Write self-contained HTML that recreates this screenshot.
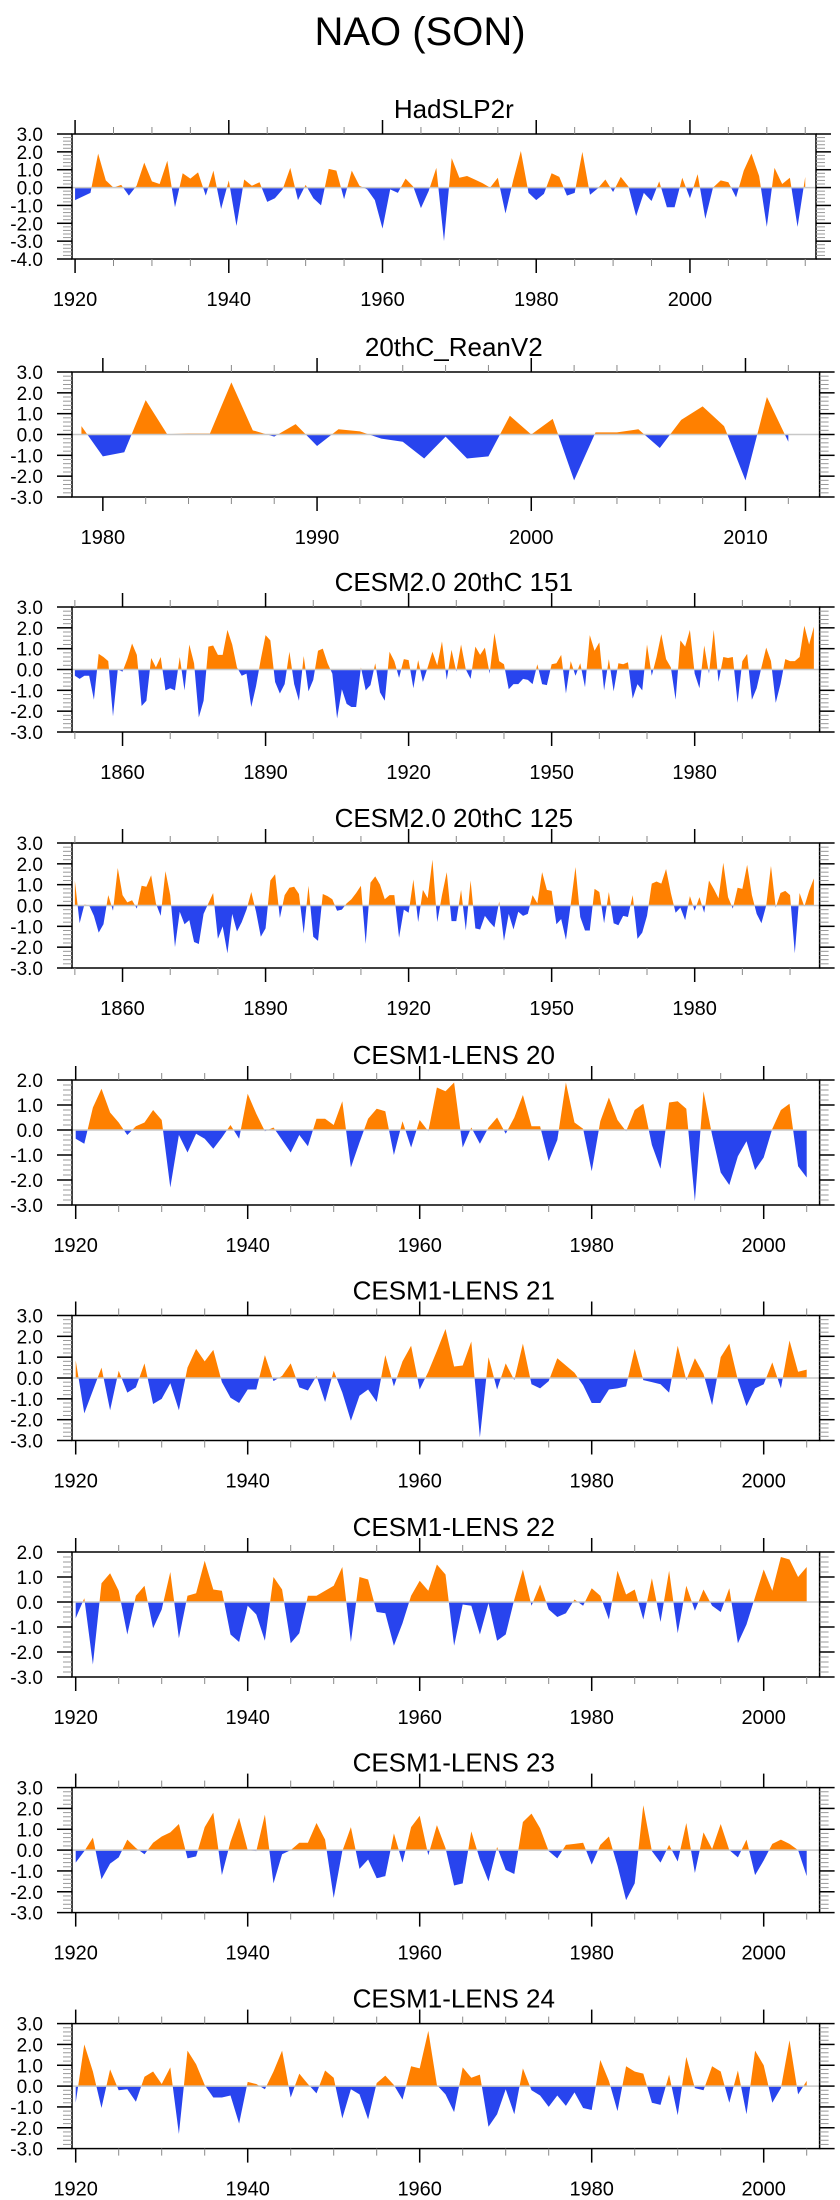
<!DOCTYPE html>
<html><head><meta charset="utf-8">
<style>
html,body{margin:0;padding:0;background:#fff;}
svg{display:block;font-family:"Liberation Sans",Arial,sans-serif;}
</style></head>
<body>
<svg id="chart" width="840" height="2200" viewBox="0 0 840 2200" xmlns="http://www.w3.org/2000/svg">
<text x="420" y="45" font-size="40" text-anchor="middle" fill="#000">NAO (SON)</text>
</svg>
<script>
// ---- data ----
const titles = ["HadSLP2r","20thC_ReanV2","CESM2.0 20thC 151","CESM2.0 20thC 125","CESM1-LENS 20","CESM1-LENS 21","CESM1-LENS 22","CESM1-LENS 23","CESM1-LENS 24"];
const startYears = [1920,1979,1850,1850,1920,1920,1920,1920,1920];
const yMins = [-4,-3,-3,-3,-3,-3,-3,-3,-3];
const yMaxs = [3,3,3,3,2,3,2,3,3];
const s1 = [-0.7,-0.5,-0.3,1.9,0.4,0.0,0.15,-0.45,0.1,1.4,0.35,0.2,1.5,-1.1,0.8,0.5,0.85,-0.45,0.95,-1.2,0.4,-2.15,0.45,0.1,0.3,-0.8,-0.6,-0.1,1.1,-0.7,0.15,-0.6,-1.0,1.05,0.95,-0.65,0.95,0.1,-0.1,-0.7,-2.3,-0.1,-0.3,0.5,0.05,-1.15,-0.2,1.1,-3.0,1.65,0.55,0.65,0.45,0.25,0.0,0.55,-1.45,0.4,2.05,-0.3,-0.7,-0.35,0.8,0.6,-0.45,-0.3,2.0,-0.4,-0.05,0.45,-0.25,0.6,0.05,-1.6,-0.3,-0.75,0.35,-1.1,-1.1,0.55,-0.6,0.75,-1.75,0.0,0.4,0.3,-0.55,0.95,1.9,0.65,-2.2,1.1,0.2,0.55,-2.2,0.6];
const s2 = [0.4,-1.05,-0.85,1.65,0.02,0.05,0.05,2.5,0.2,-0.1,0.5,-0.55,0.25,0.15,-0.2,-0.35,-1.15,-0.1,-1.15,-1.05,0.9,0.0,0.75,-2.2,0.1,0.1,0.25,-0.65,0.7,1.35,0.4,-2.2,1.8,-0.35];
const s3 = [-0.3,-0.45,-0.3,-0.3,-1.45,0.75,0.6,0.4,-2.25,0.0,-0.1,0.5,1.25,0.7,-1.75,-1.5,0.55,0.1,0.6,-1.0,-0.9,-1.0,0.6,-1.0,1.2,0.3,-2.3,-1.5,1.1,1.15,0.7,0.7,1.9,1.2,0.1,-0.3,-0.2,-1.8,-0.8,0.5,1.65,1.4,-0.6,-1.15,-0.7,0.85,-0.7,-1.5,0.65,-1.05,-0.5,0.9,1.0,0.3,-0.2,-2.35,-0.95,-1.65,-1.8,-1.8,0.1,-1.0,-0.75,0.3,-1.1,-1.5,0.85,0.4,-0.4,0.5,0.45,-0.9,0.45,-0.6,0.1,0.85,0.2,1.35,-0.5,0.95,-0.1,1.2,0.0,-0.45,1.1,0.7,1.05,-0.2,1.75,0.4,0.25,-0.95,-0.7,-0.7,-0.45,-0.5,-0.7,0.25,-0.7,-0.75,0.25,0.3,0.7,-1.15,0.4,-0.3,0.3,-0.85,1.65,0.9,1.3,-1.0,0.5,-1.05,0.3,0.25,0.35,-1.4,-0.7,-1.0,1.2,-0.3,0.6,1.7,0.5,0.1,-1.45,1.4,1.1,1.9,-0.2,-0.9,1.15,-0.2,1.9,-0.6,0.6,0.55,0.6,-1.6,0.4,0.75,-1.45,-0.9,0.1,1.05,0.4,-1.6,-0.7,0.5,0.4,0.4,0.6,2.1,1.2,2.05];
const s4 = [1.2,-0.85,0.05,0.0,-0.5,-1.3,-0.9,0.5,-0.25,1.8,0.5,0.15,0.25,-0.15,0.95,0.9,1.45,0.1,-0.5,1.65,0.5,-2.0,-0.3,-0.9,-0.7,-1.75,-1.85,-0.4,0.1,0.6,-1.6,-1.0,-2.3,-0.4,-1.25,-0.8,-0.2,0.65,-0.3,-1.5,-1.1,1.2,1.5,-0.6,0.5,0.85,0.9,0.55,-1.35,0.95,-1.5,-1.7,0.55,0.45,0.3,-0.25,-0.2,0.1,0.3,0.6,0.95,-1.85,1.1,1.4,1.0,0.3,0.5,0.5,-1.55,-0.2,-0.35,1.25,-0.8,0.75,0.35,2.2,-0.8,0.5,1.6,-0.75,-0.75,0.75,-1.2,1.2,-1.1,-1.15,-0.5,-0.8,-1.05,0.2,-1.7,-0.4,-1.15,-0.3,-0.5,-0.4,0.5,0.1,1.6,0.75,0.7,-0.9,-0.65,-1.65,0.05,1.85,-0.55,-1.2,-1.2,0.8,0.65,-0.85,0.65,-0.85,-0.95,-0.5,-0.55,0.5,-1.6,-1.3,-0.5,1.05,1.15,1.05,1.75,0.6,-0.35,-0.1,-0.7,0.45,-0.25,0.4,-0.35,1.2,0.8,0.35,2.05,0.4,-0.15,0.85,0.8,1.95,0.5,-0.4,-0.85,0.0,1.9,-0.1,0.6,0.7,0.5,-2.3,0.6,-0.05,0.7,1.3];
const s5 = [-0.35,-0.55,0.9,1.65,0.7,0.3,-0.2,0.15,0.3,0.8,0.4,-2.3,-0.2,-0.9,-0.15,-0.35,-0.75,-0.3,0.2,-0.35,1.45,0.65,-0.05,0.1,-0.4,-0.9,-0.2,-0.65,0.45,0.45,0.2,1.15,-1.5,-0.5,0.45,0.85,0.75,-1.0,0.35,-0.7,0.4,-0.05,1.7,1.55,1.9,-0.7,0.1,-0.55,0.1,0.5,-0.15,0.5,1.4,0.15,0.15,-1.25,-0.4,1.9,0.3,0.05,-1.65,0.35,1.3,0.4,-0.05,0.8,1.05,-0.6,-1.55,1.1,1.15,0.85,-2.85,1.55,-0.2,-1.7,-2.2,-1.05,-0.45,-1.6,-1.1,0.05,0.8,1.05,-1.45,-1.9];
const s6 = [0.85,-1.7,-0.6,0.5,-1.55,0.35,-0.7,-0.45,0.7,-1.25,-1.0,-0.25,-1.55,0.5,1.4,0.8,1.35,-0.2,-0.95,-1.2,-0.55,-0.55,1.1,-0.15,0.1,0.7,-0.45,-0.6,0.1,-1.15,0.35,-0.7,-2.05,-0.85,-0.55,-1.15,1.1,-0.4,0.8,1.55,-0.55,0.3,1.3,2.35,0.55,0.6,1.75,-2.85,1.0,-0.55,0.7,-0.1,1.65,-0.3,-0.5,-0.15,0.95,0.6,0.25,-0.35,-1.2,-1.2,-0.55,-0.5,-0.4,1.4,-0.1,-0.2,-0.3,-0.7,1.55,-0.1,0.95,0.2,-1.3,1.0,1.65,-0.1,-1.35,-0.5,-0.3,0.75,-0.5,1.8,0.3,0.4];
const s7 = [-0.65,0.15,-2.5,0.75,1.15,0.45,-1.3,0.25,0.65,-1.05,-0.3,1.2,-1.45,0.25,0.35,1.65,0.5,0.45,-1.3,-1.6,-0.15,-0.5,-1.55,1.0,0.5,-1.65,-1.25,0.25,0.25,0.45,0.65,1.4,-1.6,1.0,0.9,-0.4,-0.45,-1.75,-0.85,0.25,0.85,0.45,1.5,1.1,-1.75,-0.1,-0.15,-1.3,-0.05,-1.55,-1.3,0.1,1.3,-0.15,0.7,-0.3,-0.6,-0.45,0.1,-0.15,0.55,0.25,-0.7,1.25,0.3,0.5,-0.7,0.95,-0.8,1.25,-1.25,0.65,-0.35,0.5,-0.15,-0.4,0.55,-1.65,-0.9,0.2,1.3,0.45,1.8,1.7,1.0,1.4];
const s8 = [-0.6,-0.05,0.6,-1.4,-0.65,-0.35,0.5,0.1,-0.2,0.35,0.65,0.85,1.25,-0.4,-0.3,1.1,1.8,-1.2,0.4,1.55,0.0,-0.05,1.7,-1.6,-0.2,0.0,0.35,0.35,1.3,0.5,-2.3,-0.05,1.1,-0.9,-0.45,-1.35,-1.25,0.8,-0.6,1.1,1.65,-0.25,1.2,0.1,-1.7,-1.6,0.9,-0.45,-1.5,0.15,-0.95,-1.15,1.35,1.75,1.05,-0.05,-0.4,0.25,0.3,0.35,-0.7,0.25,0.65,-0.75,-2.4,-1.6,2.15,-0.05,-0.6,0.25,-0.55,1.3,-1.1,0.85,0.05,1.25,0.0,-0.35,0.5,-1.2,-0.5,0.3,0.5,0.3,0.0,-1.25];
const s9 = [-0.8,2.0,0.7,-1.05,0.8,-0.2,-0.15,-0.75,0.45,0.7,0.1,0.9,-2.3,1.7,1.05,0.05,-0.55,-0.55,-0.45,-1.8,0.2,0.1,-0.15,0.7,1.7,-0.55,0.6,0.1,-0.35,0.75,0.4,-1.55,-0.15,-0.4,-1.6,0.15,0.5,0.05,-0.65,0.95,0.85,2.65,0.05,-0.4,-1.25,0.9,0.4,0.55,-1.95,-1.35,-0.15,-1.35,0.85,-0.2,-0.45,-1.0,-0.45,-0.95,-0.3,-1.05,-1.15,1.25,0.25,-1.2,0.95,0.7,0.6,-0.8,-0.9,0.55,-1.4,1.4,-0.1,-0.2,0.95,0.7,-0.8,0.75,-1.35,1.7,1.0,-0.8,-0.1,2.2,-0.4,0.25];
const seriesList = [s1,s2,s3,s4,s5,s6,s7,s8,s9];
const yTickLabels1 = ["-4.0","-3.0","-2.0","-1.0","0.0","1.0","2.0","3.0"];

// ---- layout (pixel geometry, not data) ----
const boxTops = [134,372,607,843,1080,1315.5,1552,1787.6,2023.6];
const boxH = 125;
const boxLeft = 72;
const boxRights = [816,819.6,819.6,819.6,819.6,819.6,819.6,819.6,819.6];
const xDom = [[1919.6,2016.4],[1978.56,2013.46],[1849.4,2006.2],[1849.4,2006.2],[1919.57,2006.5],[1919.57,2006.5],[1919.57,2006.5],[1919.57,2006.5],[1919.57,2006.5]];
const tickSpec = [[20,5,1920],[10,2,1980],[30,10,1860],[30,10,1860],[20,5,1920],[20,5,1920],[20,5,1920],[20,5,1920],[20,5,1920]];
const ORANGE = "#ff8000", BLUE = "#2844ee";
const NS = "http://www.w3.org/2000/svg";
const svg = document.getElementById("chart");
function mk(tag, attrs, parent){
  const e = document.createElementNS(NS, tag);
  for (const k in attrs) e.setAttribute(k, attrs[k]);
  (parent||svg).appendChild(e);
  return e;
}

seriesList.forEach((data, p) => {
  const g = mk("g", {});
  
  
  const top = boxTops[p], bot = top + boxH, L = boxLeft, R = boxRights[p];
  const x0 = xDom[p][0], x1 = xDom[p][1];
  const yMin = yMins[p], yMax = yMaxs[p];
  const xs = yr => L + (yr - x0) / (x1 - x0) * (R - L);
  const ys = v => bot - (v - yMin) / (yMax - yMin) * boxH;
  const zy = ys(0);

  // title
  const t = mk("text", {x: (L + 819.6) / 2 + 8, y: top - 16, "font-size": 26, "text-anchor": "middle", fill: "#000"}, g);
  t.textContent = titles[p];
  
  

  // clip paths
  const defs = mk("defs", {}, g);
  const ca = mk("clipPath", {id: "ca" + p}, defs);
  mk("rect", {x: L, y: top, width: R - L, height: zy - top}, ca);
  const cb = mk("clipPath", {id: "cb" + p}, defs);
  mk("rect", {x: L, y: zy, width: R - L, height: bot - zy}, cb);

  let d = "M" + xs(startYears[p]).toFixed(2) + "," + zy.toFixed(2);
  data.forEach((v, i) => { d += " L" + xs(startYears[p] + i).toFixed(2) + "," + ys(v).toFixed(2); });
  d += " L" + xs(startYears[p] + data.length - 1).toFixed(2) + "," + zy.toFixed(2) + " Z";
  const pa = mk("path", {d: d, fill: ORANGE, "clip-path": "url(#ca" + p + ")"}, g);
  
  
  const pb = mk("path", {d: d, fill: BLUE, "clip-path": "url(#cb" + p + ")"}, g);
  
  

  // zero line
  const zl = mk("line", {x1: L, x2: R, y1: zy, y2: zy, stroke: "#c8c8c8", "stroke-width": 1.5}, g);
  
  

  // frame
  const fr = mk("rect", {x: L, y: top, width: R - L, height: boxH, fill: "none", stroke: "#000", "stroke-width": 1.5}, g);
  
  

  // y ticks
  for (let k = Math.round(yMin * 5); k <= Math.round(yMax * 5); k++) {
    const v = k / 5, y = ys(v), major = (k % 5 === 0);
    const len = major ? 15 : 9;
    mk("line", {x1: L - len, x2: L, y1: y, y2: y, stroke: major ? "#000" : "#999", "stroke-width": major ? 1.5 : 1}, g);
    mk("line", {x1: R, x2: R + len, y1: y, y2: y, stroke: major ? "#000" : "#999", "stroke-width": major ? 1.5 : 1}, g);
    if (major) {
      const tl = mk("text", {x: 43, y: y + 7, "font-size": 19, "text-anchor": "end", fill: "#000"}, g);
      tl.textContent = v.toFixed(1);
      
      
    }
  }
  // x ticks
  const [maj, mnr, majStart] = tickSpec[p];
  const firstMinor = Math.ceil(x0 / mnr) * mnr;
  for (let yr = firstMinor; yr <= x1; yr += mnr) {
    const x = xs(yr), major = ((yr - majStart) % maj === 0) && yr >= majStart;
    const len = major ? 14 : 7;
    mk("line", {x1: x, x2: x, y1: top - len, y2: top, stroke: major ? "#000" : "#888", "stroke-width": major ? 1.5 : 1}, g);
    mk("line", {x1: x, x2: x, y1: bot, y2: bot + len, stroke: major ? "#000" : "#888", "stroke-width": major ? 1.5 : 1}, g);
    if (major) {
      const xl = mk("text", {x: x, y: bot + 47, "font-size": 20, "text-anchor": "middle", fill: "#000"}, g);
      xl.textContent = String(yr);
      
      
    }
  }
});
</script>
</body></html>
